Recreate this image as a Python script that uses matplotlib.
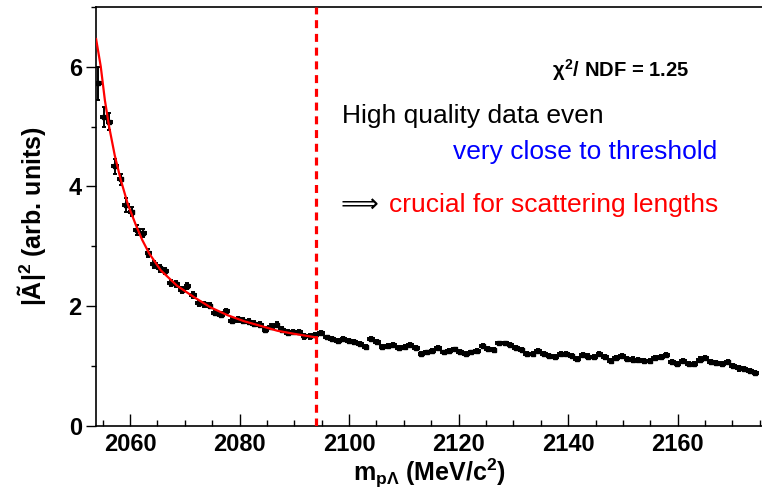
import matplotlib
matplotlib.use("Agg")
import matplotlib.pyplot as plt
from matplotlib.ticker import MultipleLocator
import numpy as np

plt.rcParams['font.family'] = ['Liberation Sans', 'DejaVu Sans']
plt.rcParams['mathtext.fontset'] = 'custom'
plt.rcParams['mathtext.rm'] = 'Liberation Sans:bold'
plt.rcParams['mathtext.bf'] = 'Liberation Sans:bold'
plt.rcParams['mathtext.it'] = 'Liberation Sans:bold'
plt.rcParams['mathtext.sf'] = 'Liberation Sans:bold'

# ---- data ----
mass_first = 2054.2   # centre of first bin (MeV/c^2)
mass_last = 2174.2    # centre of last bin

amp_values = [
    5.72, 5.16, 5.08, 4.34, 4.12, 3.69, 3.58, 3.27, 3.22, 2.89,
    2.70, 2.63, 2.59, 2.39, 2.37, 2.27, 2.33, 2.19, 2.05, 2.03,
    2.01, 1.89, 1.86, 1.92, 1.76, 1.78, 1.76, 1.74, 1.71, 1.69,
    1.61, 1.66, 1.69, 1.61, 1.56, 1.57, 1.57, 1.50, 1.50,
    1.52, 1.55, 1.48, 1.45, 1.42, 1.45, 1.42, 1.40, 1.37, 1.32,
    1.45, 1.40, 1.32, 1.34, 1.36, 1.31, 1.32, 1.36, 1.31, 1.21,
    1.23, 1.25, 1.31, 1.23, 1.26, 1.28, 1.24, 1.21, 1.23, 1.25,
    1.34, 1.29, 1.27, 1.38, 1.38, 1.36, 1.31, 1.27, 1.21, 1.21,
    1.26,
    1.20, 1.17, 1.15, 1.20, 1.20, 1.17, 1.12, 1.19, 1.16, 1.15,
    1.20, 1.15, 1.09, 1.13, 1.17, 1.12, 1.11, 1.10, 1.09, 1.09,
    1.13, 1.15, 1.19, 1.07, 1.03, 1.08, 1.03, 1.03, 1.11, 1.13,
    1.07, 1.05, 1.03, 1.07, 1.00, 0.96, 0.95, 0.92, 0.89,
]
amp_errors = ([0.27, 0.17, 0.14, 0.125, 0.09, 0.11, 0.08, 0.08, 0.07, 0.07,
               0.06, 0.06, 0.05, 0.05, 0.05, 0.05, 0.05, 0.045, 0.045, 0.045]
              + [0.04] * 19 + [0.03] * 41 + [0.035] * 39)

fit_mass = [2053.8, 2054.65, 2055.4, 2056.17, 2057.2, 2058.3, 2059.6, 2061.04,
            2062.2, 2063.5, 2065.6, 2068.6, 2071.7, 2074.7, 2077.8, 2080.8,
            2083.9, 2086.9, 2089.9, 2093.9]
fit_amp = [6.46, 6.00, 5.44, 5.00, 4.52, 4.11, 3.70, 3.36,
           3.11, 2.88, 2.60, 2.34, 2.15, 1.98, 1.85, 1.75,
           1.67, 1.59, 1.54, 1.48]

threshold_line = 2093.9

xticks = [2060, 2080, 2100, 2120, 2140, 2160]
yticks = [0, 2, 4, 6]

# ---- figure ----
fig = plt.figure(figsize=(7.62, 4.93), dpi=100)
ax = fig.add_axes([96 / 762, 67 / 493, 666 / 762, 419.3 / 493])

mass = np.linspace(mass_first, mass_last, len(amp_values))
half_bin = (mass_last - mass_first) / (len(amp_values) - 1) / 2

ax.errorbar(mass, amp_values, xerr=half_bin, yerr=amp_errors, fmt='s',
            color='black', ms=3.4, elinewidth=1.4, capsize=1.6,
            capthick=1.4, zorder=3)
ax.plot(fit_mass, fit_amp, color='#ff0000', lw=1.6, zorder=4)
ax.axvline(threshold_line, color='#ff0000', lw=2.3, dashes=(2.5, 1.8), zorder=5)

ax.set_xlim(2053.78, 2175.4)
ax.set_ylim(0, 7)
ax.set_xticks(xticks)
ax.set_yticks(yticks)
ax.xaxis.set_minor_locator(MultipleLocator(5))
ax.yaxis.set_minor_locator(MultipleLocator(1))
ax.tick_params(axis='x', which='major', direction='in', length=8.6, width=1.0,
               labelsize=17, pad=5)
ax.tick_params(axis='x', which='minor', direction='in', length=4.3, width=1.0)
ax.tick_params(axis='y', which='major', direction='out', length=7.2, width=1.0,
               labelsize=17, pad=3)
ax.tick_params(axis='y', which='minor', direction='out', length=3.6, width=1.0)
for lab in ax.get_xticklabels() + ax.get_yticklabels():
    lab.set_fontweight('bold')
ax.spines['right'].set_visible(False)
for s in ['left', 'bottom', 'top']:
    ax.spines[s].set_linewidth(1.2)

fig.text(32 / 762, 1 - 216 / 493, r'|Ã|$^{\rm 2}$ (arb. units)', rotation=90,
         ha='center', va='center', fontsize=18, fontweight='bold')
fig.text(429 / 762, 1 - 481 / 493, r'm$_{\rm p\Lambda}$ (MeV/c$^{\rm 2}$)',
         ha='center', va='baseline', fontsize=18, fontweight='bold')

fig.text(689 / 762, 1 - 77 / 493, r'$\chi^{\rm 2}$/ NDF = 1.25', ha='right',
         va='baseline', fontsize=14.5, fontweight='bold')
fig.text(342 / 762, 1 - 123 / 493, 'High quality data even', ha='left',
         va='baseline', fontsize=19)
fig.text(717 / 762, 1 - 159 / 493, 'very close to threshold', ha='right',
         va='baseline', fontsize=19, color='#0000ff')
fig.text(341 / 762, 1 - 212 / 493, '⟹', ha='left', va='baseline',
         fontsize=19, family=['DejaVu Sans'])
fig.text(718 / 762, 1 - 212 / 493, 'crucial for scattering lengths', ha='right',
         va='baseline', fontsize=19, color='#ff0000')

fig.savefig('out.png', dpi=100)
